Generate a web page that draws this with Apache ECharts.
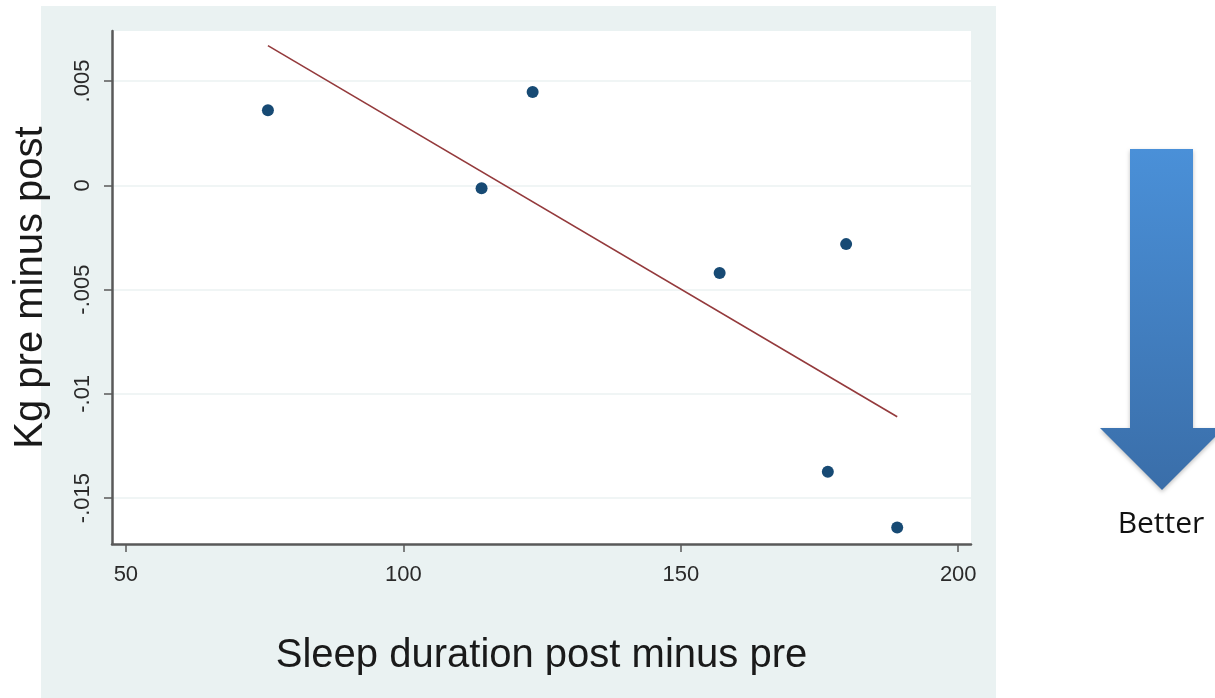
<!DOCTYPE html>
<html>
<head>
<meta charset="utf-8">
<title>Kg pre minus post vs sleep duration</title>
<script src="https://cdn.jsdelivr.net/npm/echarts@6/dist/echarts.min.js"></script>
<style>
  html, body { margin: 0; padding: 0; background: #fff; }
  #chart { width: 1215px; height: 698px; }
</style>
</head>
<body>
<div id="chart"></div>
<script>
// observations: sleep change (min) vs weight change (kg)
const sleepDiff = [75.6, 114.1, 123.3, 157.0, 176.5, 179.8, 189.0];
const kgDiff = [0.0036, -0.00014, 0.00447, -0.00421, -0.01373, -0.00282, -0.01641];

// fitted line end points
const fitX = [75.6, 189.0];
const fitY = [0.0067, -0.0111];

const xTicks = [50, 100, 150, 200];
const yTicks = [-0.015, -0.01, -0.005, 0, 0.005];

const AXIS_GREY = "#595959";

const chart = echarts.init(document.getElementById("chart"));

chart.setOption({
  animation: false,
  grid: {
    left: 112,
    top: 31,
    right: 244,
    bottom: 154,
    outerBoundsMode: "none",
    containLabel: false,
    show: true,
    backgroundColor: "#fff",
    borderWidth: 0,
  },
  graphic: [
    {
      type: "rect",
      z: -10,
      shape: { x: 41, y: 6, width: 955, height: 692 },
      style: { fill: "#eaf2f2" },
    },
    {
      // "better" arrow
      type: "polygon",
      shape: {
        points: [
          [1130, 149], [1193, 149], [1193, 428], [1224, 428],
          [1162, 490], [1100, 428], [1130, 428],
        ],
      },
      style: {
        fill: new echarts.graphic.LinearGradient(0, 0, 0, 1, [
          { offset: 0, color: "#4a90d8" },
          { offset: 1, color: "#3a6ea9" },
        ]),
        shadowBlur: 4,
        shadowColor: "rgba(0,0,0,0.25)",
        shadowOffsetY: 2,
      },
    },
    {
      type: "text",
      x: 1161,
      y: 524,
      style: {
        text: "Better",
        font: '30px "Open Sans"',
        fill: "#111",
        textAlign: "center",
        textVerticalAlign: "middle",
      },
    },
  ],
  xAxis: {
    type: "value",
    min: 47.5,
    max: 202.3,
    name: "Sleep duration post minus pre",
    nameLocation: "middle",
    nameGap: 92,
    nameTextStyle: { fontFamily: "Liberation Sans", fontSize: 40, color: "#1a1a1a" },
    axisLine: { show: true, onZero: false, lineStyle: { color: AXIS_GREY, width: 2.5 } },
    axisTick: {
      show: true,
      length: 8,
      customValues: xTicks,
      lineStyle: { color: AXIS_GREY, width: 1.5 },
    },
    axisLabel: {
      customValues: xTicks,
      margin: 20,
      fontFamily: "Liberation Sans",
      fontSize: 22,
      color: "#2a2a2a",
    },
    splitLine: { show: false },
  },
  yAxis: {
    type: "value",
    min: -0.0172,
    max: 0.0074,
    name: "Kg pre minus post",
    nameLocation: "middle",
    nameGap: 61,
    nameTextStyle: { fontFamily: "Liberation Sans", fontSize: 40, color: "#1a1a1a" },
    axisLine: { show: true, onZero: false, lineStyle: { color: AXIS_GREY, width: 2.5 } },
    axisTick: {
      show: true,
      length: 8,
      customValues: yTicks,
      lineStyle: { color: AXIS_GREY, width: 1.5 },
    },
    axisLabel: {
      customValues: yTicks,
      rotate: 90,
      margin: 18,
      fontFamily: "Liberation Sans",
      fontSize: 22,
      color: "#2a2a2a",
      formatter: (v) => String(+v.toFixed(4)).replace("0.", "."),
    },
    splitLine: { show: true, lineStyle: { color: "#ebf2f2", width: 1.5 } },
  },
  series: [
    {
      type: "line",
      data: fitX.map((x, i) => [x, fitY[i]]),
      symbol: "none",
      lineStyle: { color: "#943a3c", width: 1.6 },
      z: 2,
    },
    {
      type: "scatter",
      data: sleepDiff.map((x, i) => [x, kgDiff[i]]),
      symbolSize: 12,
      itemStyle: { color: "#174a74", opacity: 1 },
      z: 3,
    },
  ],
});
</script>
</body>
</html>
